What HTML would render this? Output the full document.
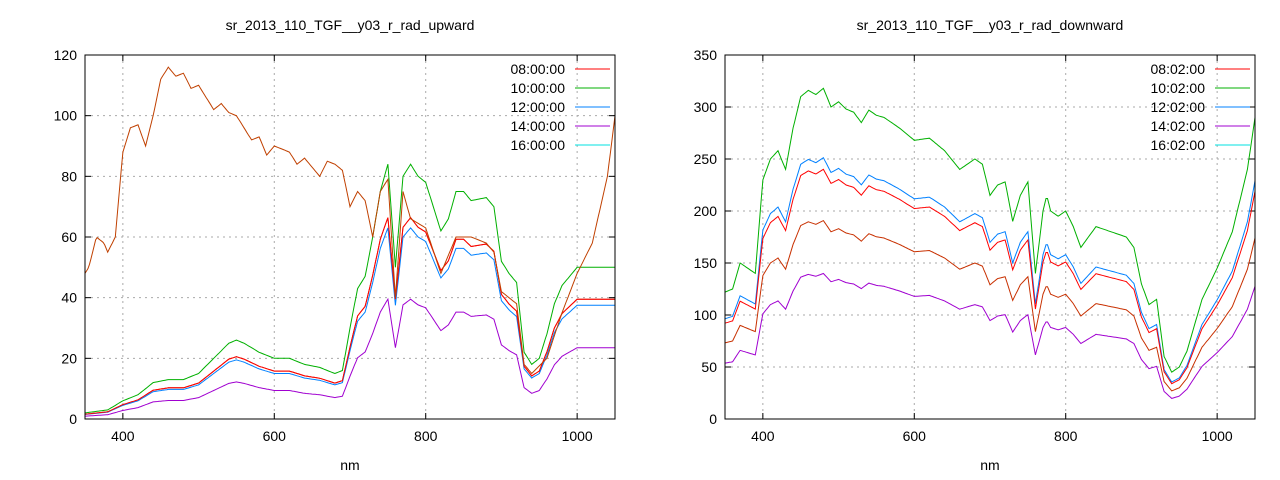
<!DOCTYPE html><html><head><style>body{margin:0;background:#fff}svg{display:block;font-family:"Liberation Sans",sans-serif}</style></head><body>
<svg id="s" width="1280" height="480" xmlns="http://www.w3.org/2000/svg"></svg>
<script>
const S=document.getElementById('s');let h='';
function L(pts,fx,fy,c){return '<polyline fill="none" stroke="'+c+'" stroke-width="1" points="'+pts.map(p=>fx(p[0]).toFixed(1)+','+fy(p[1]).toFixed(1)).join(' ')+'"/>';}
function interp(k){const o=[];for(let x=350;x<=1050;x+=2){let i=0;while(i<k.length-2&&k[i+1][0]<x)i++;const a=k[i],b=k[i+1];const t=Math.max(0,Math.min(1,(x-a[0])/(b[0]-a[0])));o.push([x,a[1]+(b[1]-a[1])*t]);}return o;}
function sc(p,f){return p.map(q=>[q[0],q[1]*f]);}
function panel(x0,x1,ymax,ystep,title,leg,series){
 const y0=55,y1=419;const fx=v=>x0+(v-350)/700*(x1-x0);const fy=v=>y1-v/ymax*(y1-y0);
 h+='<text x="'+((x0+x1)/2)+'" y="30" font-size="14" text-anchor="middle">'+title+'</text>';
 h+='<text x="'+((x0+x1)/2)+'" y="470" font-size="14" text-anchor="middle">nm</text>';
 for(let v=0;v<=ymax;v+=ystep){const y=fy(v);if(v>0&&v<ymax)h+='<line x1="'+x0+'" x2="'+x1+'" y1="'+y+'" y2="'+y+'" stroke="#aaa" stroke-dasharray="2,4"/>';
  h+='<line x1="'+x0+'" x2="'+(x0+6)+'" y1="'+y+'" y2="'+y+'" stroke="#000"/><line x1="'+(x1-6)+'" x2="'+x1+'" y1="'+y+'" y2="'+y+'" stroke="#000"/>';
  h+='<text x="'+(x0-8)+'" y="'+(y+5)+'" font-size="14" text-anchor="end">'+v+'</text>';}
 for(let v=400;v<=1000;v+=200){const x=fx(v);h+='<line x1="'+x+'" x2="'+x+'" y1="'+y0+'" y2="'+y1+'" stroke="#aaa" stroke-dasharray="2,4"/><line x1="'+x+'" x2="'+x+'" y1="'+y1+'" y2="'+(y1-6)+'" stroke="#000"/><line x1="'+x+'" x2="'+x+'" y1="'+y0+'" y2="'+(y0+6)+'" stroke="#000"/>';
  h+='<text x="'+x+'" y="'+(y1+22)+'" font-size="14" text-anchor="middle">'+v+'</text>';}
 const lc=['#ff0000','#00b000','#0080ff','#a000d0','#00e0e0'];
 leg.forEach((t,i)=>{const y=69+i*19;h+='<text x="'+(x1-50)+'" y="'+(y+5)+'" font-size="14" text-anchor="end">'+t+'</text><line x1="'+(x1-40)+'" x2="'+(x1-5)+'" y1="'+y+'" y2="'+y+'" stroke="'+lc[i]+'"/>';});
 series.forEach(s=>h+=L(s[0],fx,fy,s[1]));
 h+='<rect x="'+x0+'" y="'+y0+'" width="'+(x1-x0)+'" height="'+(y1-y0)+'" fill="none" stroke="#000"/>';
}
const gl=interp([[350,2],[380,3],[400,6],[420,8],[440,12],[460,13],[480,13],[500,15],[520,20],[540,25],[550,26],[560,25],[580,22],[600,20],[620,20],[640,18],[660,17],[680,15],[690,16],[700,30],[710,43],[720,47],[730,60],[740,75],[750,84],[760,50],[765,65],[770,80],[780,84],[790,80],[800,78],[810,70],[820,62],[830,66],[840,75],[850,75],[860,72],[880,73],[890,70],[900,52],[910,48],[920,45],[930,22],[940,18],[950,20],[960,28],[970,38],[980,44],[1000,50],[1020,50],[1050,50]]);
const br=interp([[350,48],[355,50],[365,60],[375,58],[380,55],[390,60],[400,88],[410,96],[420,97],[430,90],[440,100],[450,112],[460,116],[470,113],[480,114],[490,109],[500,110],[510,106],[520,102],[530,104],[540,101],[550,100],[560,96],[570,92],[580,93],[590,87],[600,90],[620,88],[630,84],[640,86],[650,83],[660,80],[670,85],[680,84],[690,82],[700,70],[710,75],[720,72],[730,60],[740,75],[750,79],[760,40],[770,75],[780,66],[800,63],[820,48],[840,60],[860,60],[880,58],[890,55],[900,42],[920,38],[930,18],[940,15],[960,20],[980,35],[1000,48],[1020,58],[1040,80],[1050,100]]);
panel(85,615,120,20,'sr_2013_110_TGF__y03_r_rad_upward',['08:00:00','10:00:00','12:00:00','14:00:00','16:00:00'],
 [[gl,'#00b000'],[sc(gl,0.79),'#c83000'],[sc(gl,0.75),'#0080ff'],[sc(gl,0.79),'#ff0000'],[sc(gl,0.47),'#a000d0'],[br,'#c04000']]);
const gr=interp([[350,122],[360,125],[370,150],[380,145],[390,140],[400,230],[410,250],[420,258],[430,240],[440,280],[450,310],[460,316],[470,312],[480,318],[490,300],[500,305],[510,298],[520,295],[530,285],[540,297],[550,292],[560,290],[580,280],[600,268],[620,270],[640,258],[660,240],[680,250],[690,245],[700,215],[710,225],[720,228],[730,190],[740,215],[750,228],[760,140],[770,200],[775,215],[780,200],[790,195],[800,200],[810,185],[820,165],[830,175],[840,185],[860,180],[880,175],[890,165],[900,130],[910,110],[920,115],[930,60],[940,45],[950,50],[960,65],[970,90],[980,115],[1000,145],[1020,180],[1040,240],[1050,290]]);
panel(725,1255,350,50,'sr_2013_110_TGF__y03_r_rad_downward',['08:02:00','10:02:00','12:02:00','14:02:00','16:02:00'],
 [[gr,'#00b000'],[sc(gr,0.79),'#0080ff'],[sc(gr,0.755),'#ff0000'],[sc(gr,0.6),'#c83000'],[sc(gr,0.44),'#a000d0']]);
S.innerHTML=h;
</script></body></html>
